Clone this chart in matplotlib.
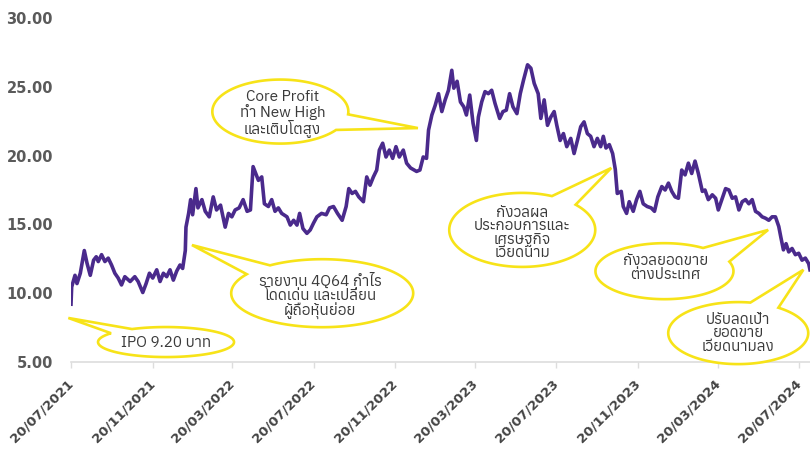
import datetime as dt

import matplotlib
matplotlib.use("Agg")
import matplotlib.dates as mdates
import matplotlib.pyplot as plt
import matplotlib.ticker as mticker
import numpy as np
from matplotlib.patches import PathPatch
from matplotlib.path import Path
from matplotlib.transforms import IdentityTransform

START = dt.date(2021, 7, 20)

# days after listing date, closing price (THB)
DAYS = [0, 1, 6, 9, 14, 20, 24, 29, 34, 38, 41, 46, 51, 56, 61, 66, 71, 76, 81, 89,
        96, 101, 108, 113, 118, 123, 129, 134, 139, 144, 149, 154, 159, 164, 168, 172,
        173, 177, 180, 183, 188, 191, 197, 202, 208, 214, 219, 225, 232, 237, 242, 247,
        253, 259, 265, 270, 274, 282, 287, 291, 297, 302, 307, 312, 317, 325, 330, 335,
        340, 344, 349, 355, 360, 365, 370, 377, 384, 389, 395, 401, 408, 414, 418, 423,
        428, 433, 440, 445, 450, 455, 460, 464, 469, 474, 479, 484, 489, 494, 500, 505,
        511, 520, 525, 530, 535, 538, 543, 548, 553, 558, 563, 568, 573, 576, 581, 586,
        591, 595, 600, 605, 610, 613, 618, 623, 628, 633, 638, 645, 650, 655, 660, 665,
        671, 676, 681, 687, 692, 697, 703, 707, 712, 717, 722, 727, 731, 736, 741, 746,
        752, 757, 762, 767, 772, 777, 782, 787, 792, 797, 801, 805, 810, 815, 819, 822,
        828, 831, 836, 840, 846, 851, 856, 861, 867, 873, 878, 883, 889, 894, 899, 904,
        909, 914, 919, 924, 929, 934, 939, 944, 950, 954, 959, 965, 970, 974, 980, 985,
        990, 995, 1000, 1005, 1010, 1015, 1020, 1025, 1030, 1035, 1040, 1045, 1050, 1055,
        1060, 1065, 1068, 1072, 1076, 1080, 1085, 1090, 1095, 1100, 1105, 1110, 1112]
PRICES = [9.20, 10.45, 11.30, 10.70, 11.45, 13.10, 12.20, 11.30, 12.40, 12.65, 12.30,
          12.80, 12.30, 12.55, 12.05, 11.45, 11.10, 10.60, 11.20, 10.85, 11.20, 10.85,
          10.05, 10.70, 11.45, 11.10, 11.70, 10.85, 11.45, 11.20, 11.70, 10.95, 11.60,
          12.05, 11.80, 13.10, 14.80, 15.80, 16.80, 15.70, 17.60, 16.20, 16.80, 15.95,
          15.55, 17.00, 16.05, 16.40, 14.80, 15.80, 15.55, 16.05, 16.20, 16.80, 15.95,
          16.05, 19.20, 18.20, 18.45, 16.50, 16.30, 16.80, 15.95, 16.20, 15.80, 15.55,
          14.95, 15.30, 14.95, 15.80, 14.70, 14.35, 14.60, 15.10, 15.55, 15.80, 15.70,
          16.20, 16.30, 15.80, 15.30, 16.30, 17.60, 17.25, 17.40, 17.00, 16.65, 18.45,
          17.85, 18.45, 18.95, 20.40, 20.90, 19.90, 20.40, 19.80, 20.65, 19.90, 20.40,
          19.45, 19.10, 18.85, 18.95, 19.90, 19.80, 21.85, 22.95, 23.65, 24.50, 23.20,
          24.05, 24.75, 26.20, 24.90, 25.40, 23.90, 23.55, 22.95, 24.40, 22.35, 21.10,
          22.80, 23.90, 24.65, 24.50, 24.75, 23.80, 22.70, 23.20, 23.30, 24.50, 23.55,
          23.05, 24.50, 25.50, 26.60, 26.35, 25.25, 24.50, 22.70, 24.05, 22.20, 22.80,
          23.20, 22.20, 21.10, 21.60, 20.65, 21.25, 20.15, 21.10, 22.10, 22.45, 21.60,
          21.40, 20.65, 21.25, 20.65, 21.40, 20.55, 20.80, 20.15, 19.00, 17.25, 17.40,
          16.30, 15.80, 16.65, 15.95, 16.80, 17.40, 16.50, 16.30, 16.20, 15.95, 17.00,
          17.75, 17.50, 18.00, 17.40, 17.00, 16.90, 18.95, 18.60, 19.45, 18.70, 19.60,
          18.70, 17.40, 17.50, 16.80, 17.15, 16.90, 16.05, 16.90, 17.60, 17.50, 16.90,
          17.00, 16.05, 16.65, 16.80, 16.50, 16.80, 15.95, 15.80, 15.55, 15.45, 15.30,
          15.55, 15.55, 14.85, 14.10, 13.15, 13.60, 13.00, 13.25, 12.80, 12.90, 12.40,
          12.55, 12.15, 11.70]

X_TICK_DATES = [dt.date(2021, 7, 20), dt.date(2021, 11, 20), dt.date(2022, 3, 20),
                dt.date(2022, 7, 20), dt.date(2022, 11, 20), dt.date(2023, 3, 20),
                dt.date(2023, 7, 20), dt.date(2023, 11, 20), dt.date(2024, 3, 20),
                dt.date(2024, 7, 20)]
Y_TICKS = [5, 10, 15, 20, 25, 30]

CALLOUT_TEXTS = [
    "IPO 9.20 บาท",
    "รายงาน 4Q64 กำไร\nโดดเด่น และเปลี่ยน\nผู้ถือหุ้นย่อย",
    "Core Profit\nทำ New High\nและเติบโตสูง",
    "กังวลผล\nประกอบการและ\nเศรษฐกิจ\nเวียดนาม",
    "กังวลยอดขาย\nต่างประเทศ",
    "ปรับลดเป้า\nยอดขาย\nเวียดนามลง",
]
# (day, price) the tail points at
CALLOUT_TIPS = [(-4, 8.2), (182, 13.5), (522, 22.0), (813, 19.1), (1049, 14.6), (1102, 11.7)]
# bubble centre (day, price), half sizes in px, tail base angles in degrees
CALLOUT_CENTERS = [(143, 6.45), (378, 10.0), (315, 23.2), (679, 14.6), (893, 11.6), (1004, 7.1)]
CALLOUT_HALF = [(68, 15), (91, 34), (68, 32), (73, 37), (69, 28), (70, 31)]
CALLOUT_BASE = [(120, 144), (125, 146), (-35, -5), (43, 66), (20, 56), (55, 80)]
CALLOUT_TEXT_SHIFT = [(0, -1), (-2, -3), (2, -2), (0, -3), (1, 3), (0, 0)]

THAI_FAMILY = ["Anuphan", "DejaVu Sans"]


def bubble_path(cx, cy, rx, ry, tip, a_start, a_end):
    t = np.radians(np.linspace(a_end, a_start + 360, 200))
    pts = np.column_stack([cx + rx * np.cos(t), cy + ry * np.sin(t)])
    pts = np.vstack([pts, tip, pts[:1]])
    codes = [Path.MOVETO] + [Path.LINETO] * (len(pts) - 2) + [Path.CLOSEPOLY]
    return Path(pts, codes)


def main() -> None:
    dates = [START + dt.timedelta(days=d) for d in DAYS]

    fig = plt.figure(figsize=(8.1, 4.5), dpi=100)
    ax = fig.add_axes([71 / 810, 88 / 450, 739 / 810, 344 / 450])
    ax.plot(dates, PRICES, color="#4a2a8c", linewidth=2.6, solid_joinstyle="round", zorder=3)

    ax.set_xlim(START, START + dt.timedelta(days=1112))
    ax.set_ylim(5, 30)
    ax.set_yticks(Y_TICKS)
    ax.yaxis.set_major_formatter(mticker.FormatStrFormatter("%.2f"))
    ax.set_xticks(X_TICK_DATES)
    ax.xaxis.set_major_formatter(mdates.DateFormatter("%d/%m/%Y"))

    for side in ("top", "right", "left"):
        ax.spines[side].set_visible(False)
    ax.spines["bottom"].set_color("#dddddd")
    ax.spines["bottom"].set_linewidth(1.2)
    ax.tick_params(axis="y", length=0, pad=13, labelsize=10.5, labelcolor="#5a5a5a")
    ax.tick_params(axis="x", length=4, color="#dddddd", width=1.0, pad=10,
                   labelsize=9.5, labelcolor="#444444")
    for lab in ax.get_yticklabels() + ax.get_xticklabels():
        lab.set_fontweight("bold")
    for lab in ax.get_xticklabels():
        lab.set_rotation(45)
        lab.set_ha("right")
        lab.set_va("center")
        lab.set_rotation_mode("anchor")

    to_px = ax.transData
    for text, tip, centre, half, base, shift in zip(CALLOUT_TEXTS, CALLOUT_TIPS, CALLOUT_CENTERS,
                                                  CALLOUT_HALF, CALLOUT_BASE, CALLOUT_TEXT_SHIFT):
        tip_px = to_px.transform((mdates.date2num(START + dt.timedelta(days=tip[0])), tip[1]))
        c_px = to_px.transform((mdates.date2num(START + dt.timedelta(days=centre[0])), centre[1]))
        path = bubble_path(c_px[0], c_px[1], half[0], half[1], tip_px, base[0], base[1])
        fig.add_artist(PathPatch(path, transform=IdentityTransform(), facecolor="white",
                                 edgecolor="#f7e318", linewidth=1.9, zorder=5))
        fig.text(c_px[0] + shift[0], c_px[1] + shift[1], text, transform=IdentityTransform(),
                 ha="center", va="center", fontsize=11, fontweight="light", color="#3a3a3a",
                 family=THAI_FAMILY, linespacing=0.95, zorder=6)

    fig.savefig("out.png", dpi=100)


if __name__ == "__main__":
    main()
